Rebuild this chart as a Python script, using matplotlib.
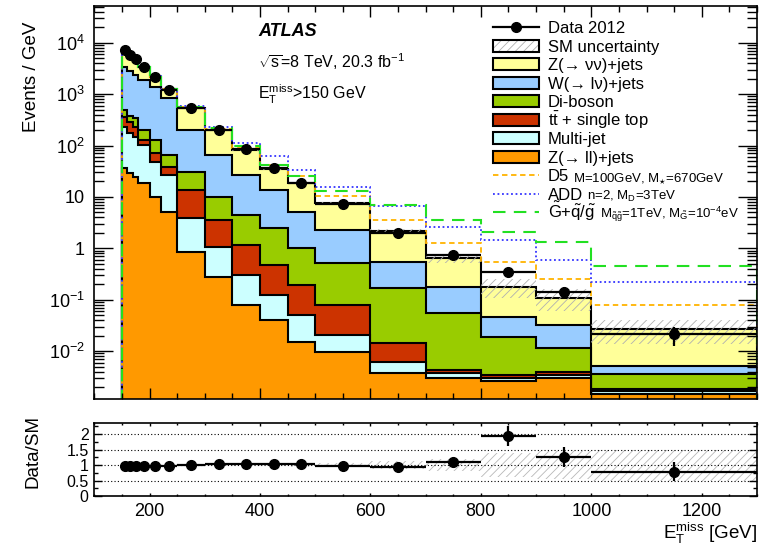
import numpy as np
import matplotlib
matplotlib.use('Agg')
import matplotlib.pyplot as plt
from matplotlib.patches import Rectangle
from matplotlib.lines import Line2D
from matplotlib.ticker import LogLocator, MultipleLocator, FixedLocator, NullFormatter, FuncFormatter

plt.rcParams['font.family'] = ['Liberation Sans', 'DejaVu Sans']
plt.rcParams['mathtext.fontset'] = 'custom'
plt.rcParams['mathtext.rm'] = 'Liberation Sans'
plt.rcParams['mathtext.it'] = 'Liberation Sans:italic'
plt.rcParams['mathtext.bf'] = 'Liberation Sans:bold'
plt.rcParams['hatch.linewidth'] = 0.6

# binning in ETmiss [GeV]
edges = [150, 160, 170, 180, 200, 220, 250, 300, 350, 400, 450, 500, 600, 700, 800, 900, 1000, 1300]

# data, events / GeV
data = [7200, 5770, 4750, 3320, 2120, 1200, 537, 203, 84.4, 37, 18.9, 7.3, 2.0, 0.73, 0.346, 0.139, 0.0212]
data_err = [27, 24, 22, 13, 10, 6.3, 3.3, 2.0, 1.3, 0.86, 0.61, 0.27, 0.14, 0.085, 0.059, 0.037, 0.0084]

# SM backgrounds, events / GeV (bottom of stack first)
z_ll = [36, 28.7, 24.8, 18.4, 10.0, 5.0, 0.86, 0.28, 0.079, 0.040, 0.0153, 0.0098, 0.0037, 0.0030, 0.0026, 0.0030, 0.00144]
multijet = [196, 144, 124, 84, 38, 21.7, 2.97, 0.80, 0.22, 0.083, 0.035, 0.0108, 0.0025, 0.0008, 0.0004, 0.0005, 0.0002]
ttbar = [121, 118, 83, 26, 22, 12, 9.8, 2.47, 0.86, 0.35, 0.143, 0.058, 0.008, 0.0005, 0.0005, 0.0005, 0.0002]
diboson = [137, 84, 106, 72, 58, 26, 17.4, 6.5, 3.3, 2.0, 0.81, 0.43, 0.152, 0.0497, 0.0155, 0.0073, 0.0017]
w_lnu = [2830, 2485, 2012, 1680, 1262, 762, 169, 55.2, 22.2, 11.2, 4.16, 1.76, 0.384, 0.126, 0.028, 0.0207, 0.0016]
z_nunu = [4080, 3040, 2500, 1520, 780, 403, 340, 131, 54, 21.9, 13.3, 5.2, 1.58, 0.48, 0.133, 0.078, 0.022]

# relative SM uncertainty
sm_unc = [0.03, 0.03, 0.03, 0.03, 0.03, 0.03, 0.03, 0.035, 0.04, 0.045, 0.05, 0.06, 0.12, 0.2, 0.4, 0.45, 0.5]

# signal + SM, events / GeV
d5_sig = [7450, 5920, 4880, 3430, 2190, 1250, 555, 205, 88, 41.8, 25.5, 10.4, 3.5, 1.25, 0.55, 0.249, 0.079]
add_sig = [7500, 5950, 4900, 3450, 2210, 1270, 575, 232, 110, 62.5, 33.4, 15.8, 6.65, 2.64, 1.45, 0.59, 0.224]
gmsb_sig = [7480, 5940, 4890, 3440, 2200, 1260, 565, 215, 98, 41.8, 25.5, 13.2, 7.0, 3.56, 2.11, 1.35, 0.453]

# Data / SM
ratio = [0.97, 0.97, 0.97, 0.98, 0.96, 0.98, 1.0, 1.04, 1.04, 1.05, 1.02, 0.97, 0.94, 1.11, 1.93, 1.27, 0.79]
ratio_err = [0.01, 0.01, 0.01, 0.01, 0.01, 0.01, 0.01, 0.015, 0.02, 0.03, 0.04, 0.04, 0.07, 0.12, 0.32, 0.33, 0.32]

edges = np.array(edges, dtype=float)
centers = 0.5 * (edges[:-1] + edges[1:])
half = 0.5 * np.diff(edges)

fig = plt.figure(figsize=(7.62, 5.47), dpi=100)
W, H = 762.0, 547.0
ax = fig.add_axes([94.3 / W, 1 - 399 / H, 662.7 / W, 393.3 / H])
rax = fig.add_axes([94.3 / W, 1 - 496 / H, 662.7 / W, 73.3 / H])

# stacked backgrounds
stack = [(z_ll, '#ff9900'), (multijet, '#ccffff'), (ttbar, '#cc3300'),
         (diboson, '#99cc00'), (w_lnu, '#99ccff'), (z_nunu, '#ffff99')]
cum = np.cumsum([np.array(s) for s, c in stack], axis=0)
for i in reversed(range(len(stack))):
    ax.stairs(cum[i], edges, baseline=1e-7, fill=True, facecolor=stack[i][1],
              edgecolor='black', linewidth=1.5)

sm = cum[-1]
unc = np.array(sm_unc)
ax.stairs(sm * (1 + unc), edges, baseline=sm * (1 - unc), fill=True, facecolor='none',
          edgecolor='#b0b0b0', hatch='////', linewidth=0)

# signals
ax.stairs(d5_sig, edges, baseline=1e-7, color='#ffb300', ls=(0, (3, 2)), lw=1.3)
ax.stairs(add_sig, edges, baseline=1e-7, color='#3333ff', ls=(0, (1, 1.5)), lw=1.3)
ax.stairs(gmsb_sig, edges, baseline=1e-7, color='#22e022', ls=(0, (6, 4)), lw=1.5)

ax.errorbar(centers, data, xerr=half, yerr=data_err, fmt='o', color='black',
            ms=7, elinewidth=1.6, capsize=0, zorder=5)

ax.set_yscale('log')
ax.set_xlim(100, 1300)
ax.set_ylim(1.17e-3, 5.25e4)


def log_label(v, pos):
    e = int(round(np.log10(v)))
    if e == 0:
        return '1'
    if e == 1:
        return '10'
    return r'$10^{%d}$' % e


ax.yaxis.set_major_locator(LogLocator(base=10, numticks=20))
ax.yaxis.set_minor_locator(LogLocator(base=10, subs=np.arange(2, 10), numticks=20))
ax.yaxis.set_major_formatter(FuncFormatter(log_label))
ax.yaxis.set_minor_formatter(NullFormatter())

for a in (ax, rax):
    a.xaxis.set_major_locator(MultipleLocator(200))
    a.xaxis.set_minor_locator(MultipleLocator(50))
    a.tick_params(which='both', direction='in', top=True, right=True, width=1.0)
    for s in a.spines.values():
        s.set_linewidth(1.2)
ax.tick_params(axis='x', which='major', length=8)
ax.tick_params(axis='x', which='minor', length=4)
ax.tick_params(axis='y', which='major', length=14, labelsize=13, pad=7)
ax.tick_params(axis='y', which='minor', length=7)
ax.tick_params(labelbottom=False)

# ratio panel
rax.stairs(1 + unc, edges, baseline=1 - unc, fill=True, facecolor='none',
           edgecolor='#b8b8b8', hatch='////', linewidth=0)
for yl in [0.5, 1.0, 1.5, 2.0]:
    rax.axhline(yl, color='black', ls=(0, (1, 2)), lw=0.8)
rax.errorbar(centers, ratio, xerr=half, yerr=ratio_err, fmt='o', color='black',
             ms=7, elinewidth=1.6, capsize=0, zorder=5)
rax.set_xlim(100, 1300)
rax.set_ylim(0, 2.37)
rax.yaxis.set_major_locator(FixedLocator([0, 0.5, 1, 1.5, 2]))
rax.yaxis.set_major_formatter(FuncFormatter(lambda v, p: '%g' % v))
rax.yaxis.set_minor_locator(MultipleLocator(0.25))
rax.tick_params(axis='x', which='major', length=2.5, labelsize=13, pad=5)
rax.tick_params(axis='x', which='minor', length=1.3)
rax.tick_params(axis='y', which='major', length=6, labelsize=11.5, pad=4)
rax.tick_params(axis='y', which='minor', length=3)

fig.text(31 / W, 1 - 77 / H, 'Events / GeV', rotation=90, ha='center', va='center', fontsize=13.5)
fig.text(33 / W, 1 - 452 / H, 'Data/SM', rotation=90, ha='center', va='center', fontsize=13.5)
fig.text(757 / W, 1 - 533 / H, r'E$_{\mathrm{T}}^{\mathrm{miss}}$ [GeV]', ha='right', va='center', fontsize=13.5)


def fx(px):
    return (px - 94.3) / 662.7


def fy(py):
    return 1 - (py - 5.7) / 393.3


ax.text(fx(258), fy(31), 'ATLAS', fontsize=13, weight='bold', style='italic',
        va='center', ha='left', transform=ax.transAxes)
ax.text(fx(258), fy(62), r'$\sqrt{\mathrm{s}}$=8 TeV, 20.3 fb$^{-1}$', fontsize=11.5,
        va='center', ha='left', transform=ax.transAxes)
ax.text(fx(258), fy(94), r'E$_{\mathrm{T}}^{\mathrm{miss}}$>150 GeV', fontsize=11.5,
        va='center', ha='left', transform=ax.transAxes)

# legend, drawn by hand
hx0, hx1, tx = 493, 539, 548
row0, dy = 27.3, 18.5
legend_rows = [
    ('data', 'Data 2012', None),
    ('unc', 'SM uncertainty', None),
    ('#ffff99', 'Z(→ νν)+jets', None),
    ('#99ccff', 'W(→ lν)+jets', None),
    ('#99cc00', 'Di-boson', None),
    ('#cc3300', r'$\mathrm{t\bar{t}}$ + single top', None),
    ('#ccffff', 'Multi-jet', None),
    ('#ff9900', 'Z(→ ll)+jets', None),
    ('d5', 'D5', r'M=100GeV, M$_{\star}$=670GeV'),
    ('add', 'ADD', r'n=2, M$_{\mathrm{D}}$=3TeV'),
    ('gmsb', r'$\tilde{\mathrm{G}}$+$\tilde{\mathrm{q}}$/$\tilde{\mathrm{g}}$',
     r'M$_{\tilde{\mathrm{q}}\tilde{\mathrm{g}}}$=1TeV, M$_{\tilde{\mathrm{G}}}$=10$^{-4}$eV'),
]
line_styles = {'d5': ('#ffb300', (0, (3, 2)), 1.3),
               'add': ('#3333ff', (0, (1, 1.5)), 1.3),
               'gmsb': ('#22e022', (0, (6, 4)), 1.5)}
for i, (kind, label, small) in enumerate(legend_rows):
    py = row0 + i * dy
    if kind == 'data':
        ax.add_line(Line2D([fx(hx0), fx(hx1)], [fy(py), fy(py)], color='black', lw=1.6,
                           transform=ax.transAxes, clip_on=False))
        ax.add_line(Line2D([fx(0.5 * (hx0 + hx1))], [fy(py)], marker='o', ms=7, color='black',
                           transform=ax.transAxes, clip_on=False))
    elif kind == 'unc':
        ax.add_patch(Rectangle((fx(hx0), fy(py + 6)), fx(hx1) - fx(hx0), fy(py - 6) - fy(py + 6),
                               facecolor='white', edgecolor='#b0b0b0', hatch='////', lw=0,
                               transform=ax.transAxes, clip_on=False))
        ax.add_patch(Rectangle((fx(hx0), fy(py + 6)), fx(hx1) - fx(hx0), fy(py - 6) - fy(py + 6),
                               facecolor='none', edgecolor='black', lw=1.5,
                               transform=ax.transAxes, clip_on=False))
    elif kind in line_styles:
        c, ls, lw = line_styles[kind]
        ax.add_line(Line2D([fx(hx0), fx(hx1)], [fy(py), fy(py)], color=c, ls=ls, lw=lw,
                           transform=ax.transAxes, clip_on=False))
    else:
        ax.add_patch(Rectangle((fx(hx0), fy(py + 6)), fx(hx1) - fx(hx0), fy(py - 6) - fy(py + 6),
                               facecolor=kind, edgecolor='black', lw=1.5,
                               transform=ax.transAxes, clip_on=False))
    t = ax.text(fx(tx), fy(py + 6), label, fontsize=12, va='baseline', ha='left',
                transform=ax.transAxes)
    if small:
        ax.annotate(small, xy=(1, fy(py + 6)), xycoords=(t, ax.transAxes), xytext=(3, 0),
                    textcoords='offset points', va='baseline', ha='left', fontsize=9.5)

fig.savefig('out.png', dpi=100)
